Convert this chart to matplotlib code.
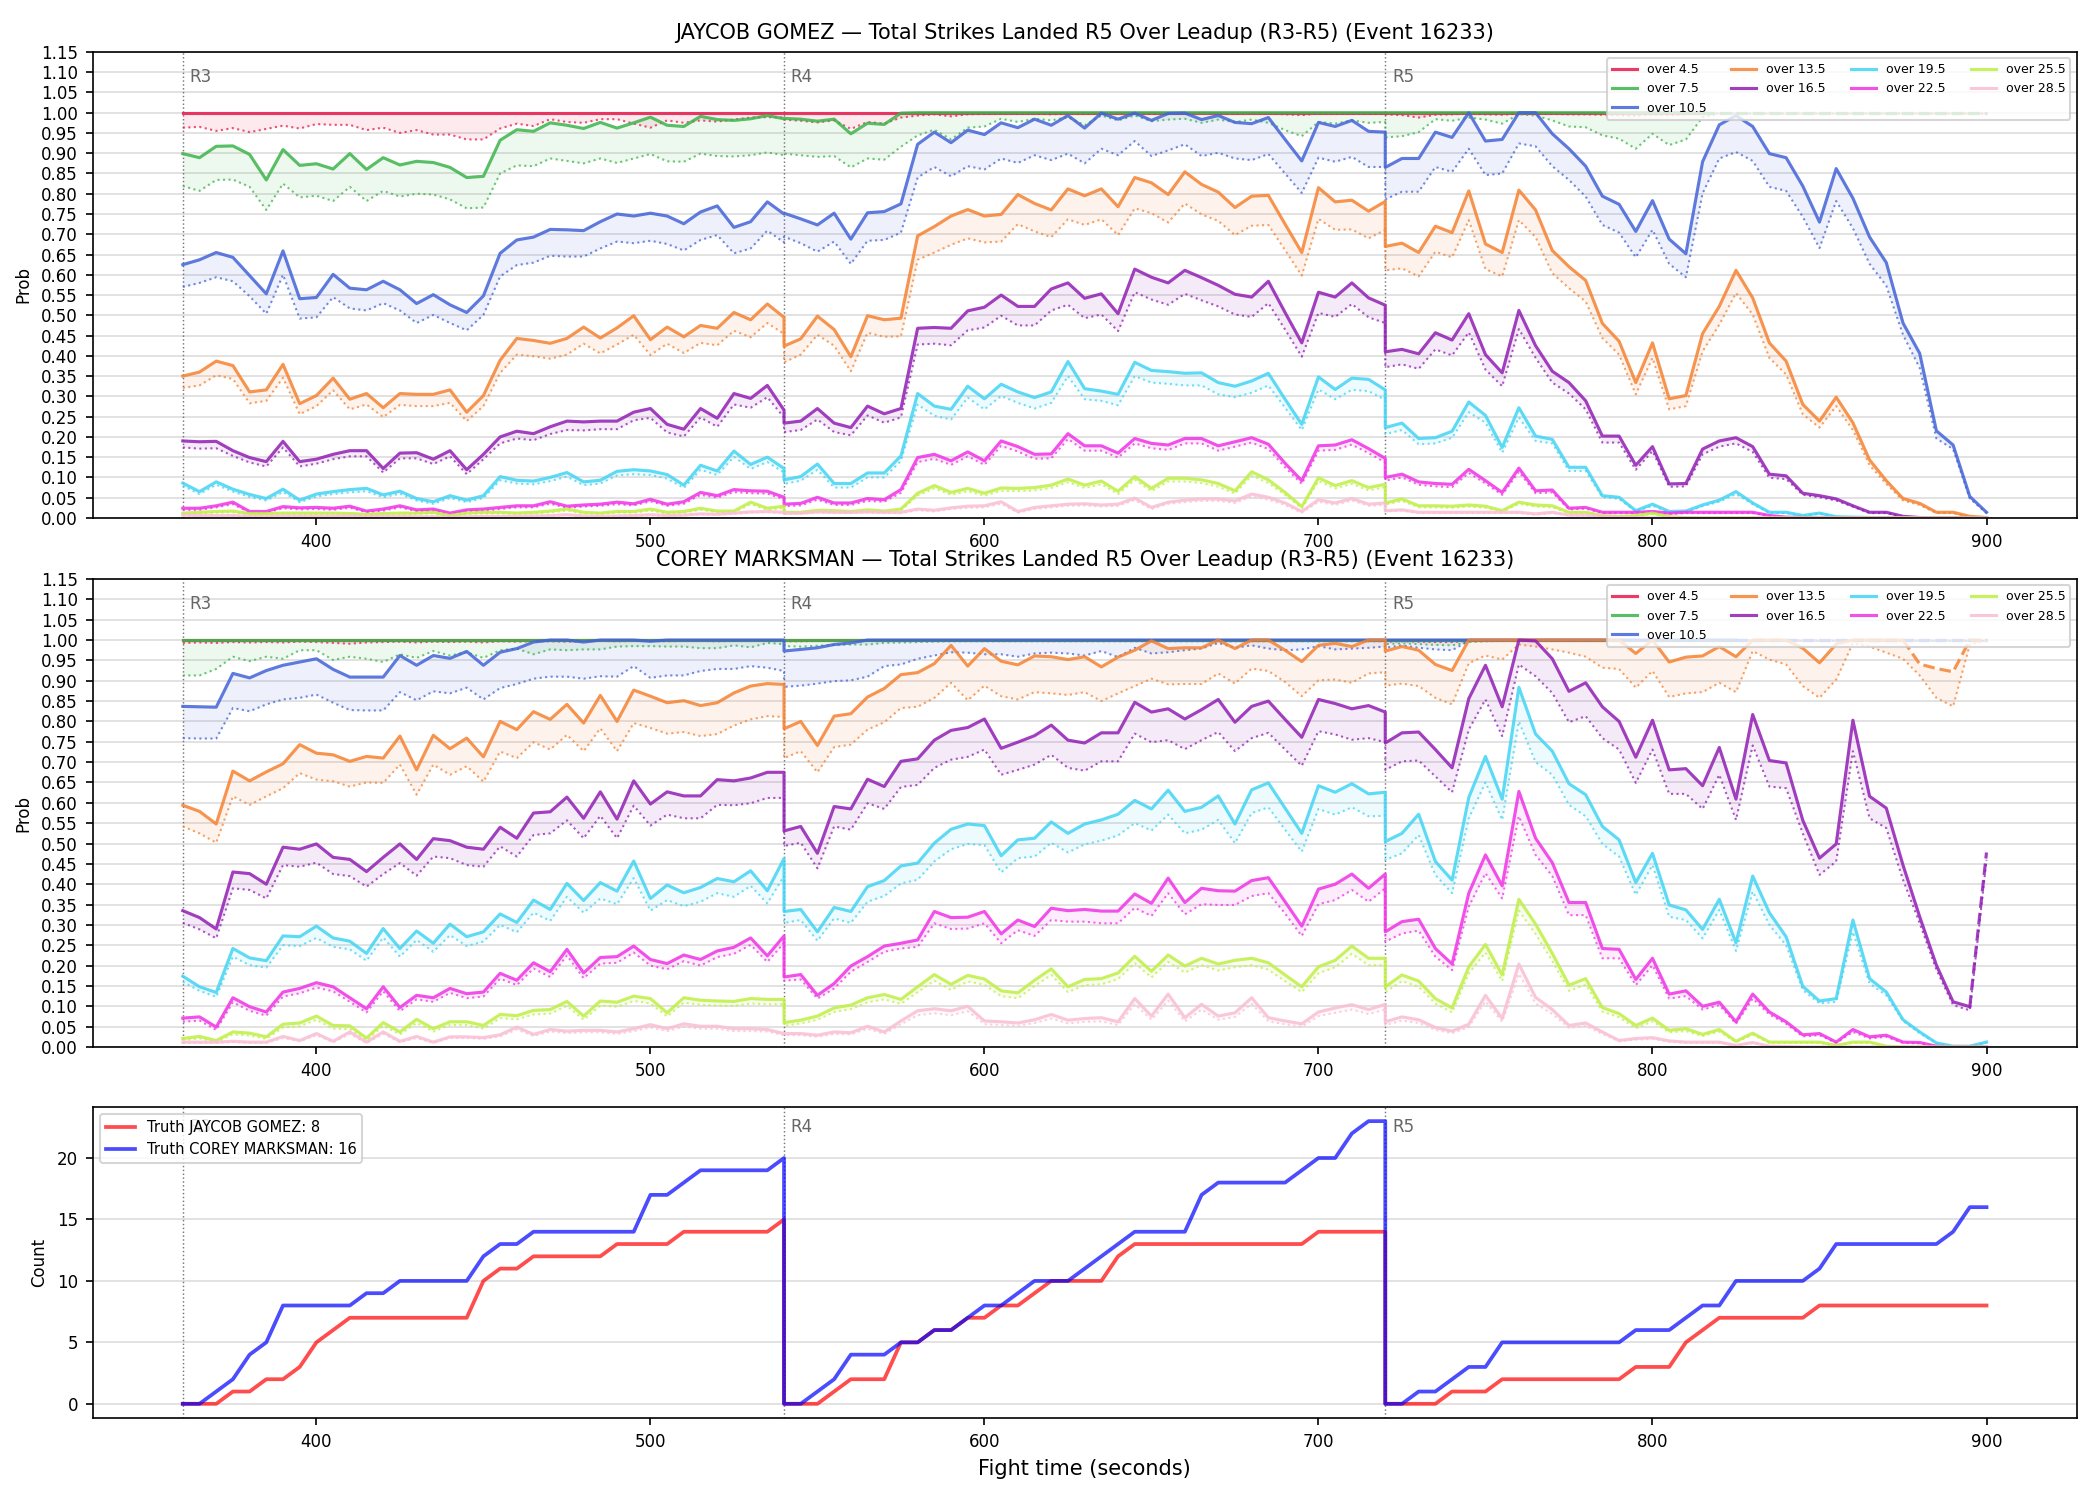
import matplotlib
matplotlib.use("Agg")
import matplotlib.pyplot as plt
import numpy as np

# ---- data -------------------------------------------------------------
ROUND_STARTS = [360, 540, 720]
ROUND_NAMES = ["R3", "R4", "R5"]
ROUND_LEN = 180
STEP = 5
EVENT = 16233
FIGHTERS = ["JAYCOB GOMEZ", "COREY MARKSMAN"]
LINES = ["over 4.5", "over 7.5", "over 10.5", "over 13.5", "over 16.5",
         "over 19.5", "over 22.5", "over 25.5", "over 28.5"]
COLORS = ["#e6194b", "#3cb44b", "#4363d8", "#f58231", "#911eb4",
          "#42d4f4", "#f032e6", "#bfef45", "#fabed4"]

# JAYCOB GOMEZ: solid = prob, _lo = dotted lower line (R3 + R4 + R5, 37 pts each)
gomez_o45 = [1.0] * 111
gomez_o45_lo = ([0.963,0.965,0.955,0.962,0.952,0.960,0.968,0.961,0.972,0.970,0.970,0.957,0.963,0.950,0.957,0.946,0.946,0.934,0.934,0.961,0.973,0.967,0.984,0.977,0.975,0.984,0.984,0.973,0.963,0.981,0.975,0.981,0.978,0.983,0.988,0.989,0.988]
                + [0.983,0.980,0.976,0.981,0.960,0.977,0.973,0.988,0.993,0.996,0.991,0.996,0.997,0.998,0.997,0.998,0.996,0.998,0.997,0.998,0.998,0.999,0.997,0.998,0.998,0.999,0.998,0.997,0.998,0.998,0.996,0.994,0.998,0.997,0.998,0.997,0.997]
                + [0.996,0.994,0.988,0.995,0.996,0.998,0.996,0.995,0.998,0.998,0.997,0.996,0.996,0.995,0.994,0.993,0.996,0.994,0.996] + [0.998] * 18)
gomez_o75 = ([0.899,0.889,0.917,0.918,0.897,0.834,0.909,0.870,0.874,0.861,0.899,0.860,0.889,0.871,0.880,0.877,0.865,0.840,0.843,0.932,0.958,0.954,0.975,0.969,0.961,0.976,0.962,0.975,0.989,0.969,0.966,0.991,0.983,0.981,0.985,0.993,0.985]
             + [0.986,0.984,0.979,0.984,0.948,0.974,0.971,0.999] + [1.0] * 29
             + [1.0] * 37)
gomez_o75_lo = ([0.819,0.807,0.834,0.835,0.817,0.760,0.825,0.791,0.795,0.782,0.817,0.782,0.807,0.793,0.800,0.798,0.786,0.764,0.766,0.850,0.870,0.868,0.887,0.881,0.875,0.887,0.876,0.887,0.898,0.880,0.879,0.899,0.893,0.892,0.895,0.902,0.895]
                + [0.899,0.895,0.891,0.893,0.865,0.887,0.884,0.916,0.944,0.958,0.934,0.963,0.966,0.985,0.977,0.985,0.981,0.989,0.969,0.993,0.981,0.993,0.979,0.983,0.985,0.975,0.983,0.977,0.983,0.975,0.957,0.942,0.977,0.973,0.981,0.975,0.977]
                + [0.939,0.942,0.952,0.984,0.980,0.988,0.983,0.973,0.996,0.993,0.981,0.966,0.964,0.944,0.936,0.911,0.948,0.920,0.934,0.989,0.998] + [0.998] * 16)
gomez_o105 = ([0.625,0.637,0.655,0.643,0.598,0.553,0.659,0.541,0.544,0.601,0.567,0.563,0.584,0.563,0.529,0.551,0.526,0.507,0.548,0.653,0.686,0.693,0.712,0.711,0.709,0.731,0.750,0.745,0.752,0.745,0.726,0.755,0.770,0.717,0.731,0.780,0.750]
              + [0.752,0.738,0.723,0.752,0.688,0.753,0.756,0.775,0.922,0.952,0.926,0.957,0.946,0.975,0.963,0.984,0.969,0.993,0.962,0.999,0.984,0.999,0.981,0.998,0.999,0.983,0.993,0.976,0.973,0.988,0.934,0.881,0.976,0.966,0.981,0.954,0.952]
              + [0.865,0.887,0.887,0.952,0.939,1.0,0.930,0.934,1.0,1.0,0.948,0.911,0.868,0.794,0.774,0.707,0.783,0.688,0.652,0.879,0.970,0.993,0.966,0.899,0.889,0.819,0.730,0.862,0.789,0.693,0.630,0.481,0.406,0.215,0.180,0.053,0.014])
gomez_o105_lo = ([0.570,0.580,0.594,0.584,0.547,0.504,0.600,0.492,0.495,0.545,0.517,0.512,0.530,0.512,0.481,0.501,0.481,0.463,0.501,0.596,0.624,0.630,0.647,0.645,0.645,0.665,0.682,0.678,0.684,0.676,0.660,0.686,0.698,0.653,0.665,0.709,0.680]
                 + [0.694,0.678,0.657,0.682,0.627,0.684,0.686,0.704,0.840,0.866,0.843,0.868,0.860,0.887,0.876,0.895,0.883,0.899,0.875,0.911,0.895,0.930,0.893,0.907,0.922,0.893,0.901,0.887,0.883,0.898,0.850,0.802,0.889,0.879,0.891,0.866,0.866]
                 + [0.786,0.805,0.805,0.866,0.854,0.911,0.846,0.850,0.924,0.917,0.868,0.834,0.793,0.723,0.704,0.643,0.711,0.627,0.594,0.801,0.887,0.903,0.881,0.817,0.807,0.743,0.666,0.782,0.715,0.627,0.573,0.452,0.370,0.196,0.170,0.048,0.012])
gomez_o135 = ([0.350,0.360,0.387,0.376,0.311,0.316,0.379,0.282,0.302,0.345,0.293,0.307,0.272,0.307,0.305,0.305,0.316,0.261,0.302,0.389,0.443,0.438,0.431,0.443,0.471,0.444,0.469,0.499,0.440,0.471,0.447,0.475,0.468,0.507,0.489,0.528,0.495]
              + [0.424,0.442,0.498,0.465,0.398,0.499,0.489,0.493,0.696,0.719,0.745,0.761,0.745,0.749,0.798,0.776,0.760,0.812,0.795,0.812,0.768,0.840,0.827,0.798,0.854,0.823,0.804,0.766,0.794,0.796,0.725,0.655,0.815,0.780,0.784,0.757,0.781]
              + [0.670,0.678,0.655,0.720,0.704,0.807,0.676,0.655,0.809,0.760,0.660,0.620,0.586,0.480,0.436,0.334,0.432,0.294,0.302,0.455,0.522,0.611,0.543,0.432,0.387,0.280,0.239,0.298,0.235,0.143,0.092,0.048,0.036,0.014,0.014,0.004,0.001])
gomez_o135_lo = ([0.321,0.327,0.352,0.343,0.283,0.289,0.346,0.256,0.276,0.315,0.268,0.280,0.249,0.279,0.276,0.276,0.284,0.239,0.276,0.358,0.403,0.399,0.393,0.403,0.430,0.406,0.428,0.452,0.402,0.430,0.407,0.432,0.426,0.462,0.446,0.481,0.454]
                 + [0.384,0.403,0.452,0.425,0.362,0.457,0.447,0.448,0.637,0.655,0.674,0.690,0.680,0.682,0.725,0.707,0.693,0.737,0.723,0.737,0.698,0.764,0.752,0.729,0.776,0.749,0.733,0.698,0.721,0.723,0.661,0.598,0.738,0.711,0.712,0.690,0.711]
                 + [0.611,0.616,0.596,0.657,0.643,0.735,0.614,0.596,0.735,0.693,0.604,0.567,0.534,0.444,0.403,0.305,0.395,0.268,0.276,0.411,0.477,0.555,0.502,0.395,0.354,0.256,0.223,0.276,0.217,0.130,0.084,0.043,0.032,0.012,0.012,0.003,0.001])
gomez_o165 = ([0.190,0.188,0.189,0.166,0.149,0.139,0.189,0.139,0.145,0.157,0.166,0.166,0.122,0.160,0.161,0.145,0.166,0.119,0.157,0.200,0.214,0.208,0.225,0.239,0.237,0.239,0.239,0.261,0.270,0.231,0.219,0.270,0.246,0.307,0.295,0.327,0.266]
              + [0.234,0.239,0.270,0.234,0.223,0.276,0.257,0.270,0.468,0.470,0.468,0.511,0.520,0.550,0.522,0.522,0.565,0.580,0.542,0.553,0.504,0.614,0.594,0.580,0.611,0.593,0.574,0.552,0.545,0.584,0.507,0.432,0.557,0.545,0.580,0.543,0.525]
              + [0.410,0.416,0.405,0.457,0.439,0.504,0.403,0.358,0.512,0.425,0.362,0.334,0.289,0.202,0.202,0.130,0.176,0.084,0.085,0.170,0.190,0.198,0.176,0.108,0.104,0.061,0.055,0.047,0.030,0.014,0.014,0.004,0.001,0,0,0,0])
gomez_o165_lo = ([0.174,0.171,0.172,0.153,0.137,0.127,0.174,0.127,0.134,0.145,0.152,0.152,0.112,0.147,0.147,0.133,0.152,0.108,0.145,0.184,0.196,0.192,0.207,0.217,0.216,0.219,0.219,0.241,0.247,0.211,0.201,0.248,0.225,0.280,0.272,0.298,0.248]
                 + [0.212,0.217,0.243,0.212,0.204,0.253,0.235,0.248,0.428,0.430,0.426,0.463,0.470,0.499,0.475,0.475,0.512,0.526,0.493,0.502,0.461,0.557,0.539,0.526,0.553,0.537,0.522,0.502,0.496,0.530,0.465,0.398,0.506,0.496,0.528,0.495,0.481]
                 + [0.372,0.379,0.368,0.416,0.401,0.458,0.366,0.325,0.466,0.395,0.334,0.307,0.268,0.186,0.186,0.119,0.165,0.077,0.078,0.157,0.176,0.184,0.163,0.099,0.096,0.057,0.051,0.043,0.028,0.012,0.012,0.003,0.001,0,0,0,0])
gomez_o195 = ([0.086,0.065,0.089,0.071,0.058,0.048,0.071,0.044,0.059,0.065,0.070,0.073,0.057,0.066,0.048,0.040,0.055,0.044,0.055,0.102,0.093,0.091,0.100,0.112,0.089,0.093,0.115,0.119,0.116,0.107,0.081,0.130,0.116,0.165,0.132,0.150,0.122]
              + [0.094,0.102,0.133,0.085,0.085,0.111,0.111,0.153,0.307,0.276,0.268,0.325,0.294,0.330,0.311,0.297,0.311,0.386,0.319,0.313,0.305,0.384,0.364,0.361,0.357,0.358,0.334,0.325,0.338,0.357,0.293,0.231,0.348,0.317,0.345,0.342,0.316]
              + [0.223,0.234,0.196,0.198,0.214,0.286,0.253,0.174,0.272,0.202,0.194,0.125,0.125,0.055,0.051,0.018,0.034,0.016,0.017,0.032,0.044,0.065,0.037,0.014,0.014,0.006,0.012,0.003,0.002,0.001,0,0,0,0,0,0,0])
gomez_o195_lo = ([0.079,0.059,0.082,0.065,0.052,0.043,0.064,0.039,0.053,0.059,0.063,0.066,0.051,0.060,0.043,0.035,0.049,0.039,0.049,0.093,0.085,0.083,0.091,0.102,0.081,0.085,0.105,0.108,0.106,0.097,0.074,0.119,0.106,0.151,0.121,0.138,0.112]
                 + [0.084,0.092,0.119,0.075,0.075,0.100,0.100,0.141,0.280,0.252,0.243,0.297,0.268,0.301,0.284,0.270,0.284,0.350,0.293,0.289,0.278,0.350,0.334,0.331,0.327,0.327,0.305,0.298,0.309,0.327,0.272,0.217,0.317,0.293,0.316,0.313,0.291]
                 + [0.207,0.217,0.182,0.184,0.198,0.261,0.235,0.161,0.248,0.190,0.184,0.116,0.116,0.051,0.047,0.016,0.030,0.014,0.015,0.029,0.040,0.059,0.034,0.012,0.012,0.005,0.010,0.002,0.001,0.001,0,0,0,0,0,0,0])
gomez_o225 = ([0.024,0.024,0.030,0.039,0.016,0.016,0.028,0.025,0.026,0.024,0.029,0.017,0.022,0.030,0.020,0.022,0.012,0.020,0.022,0.026,0.030,0.030,0.040,0.029,0.032,0.034,0.039,0.035,0.046,0.034,0.040,0.063,0.055,0.070,0.067,0.066,0.051]
              + [0.034,0.036,0.051,0.037,0.037,0.048,0.045,0.070,0.149,0.157,0.141,0.163,0.141,0.190,0.176,0.157,0.158,0.208,0.178,0.178,0.160,0.196,0.184,0.180,0.196,0.196,0.178,0.188,0.198,0.182,0.135,0.092,0.178,0.180,0.193,0.171,0.147]
              + [0.100,0.108,0.089,0.085,0.083,0.120,0.092,0.063,0.123,0.067,0.069,0.024,0.026,0.014,0.014,0.014,0.016,0.012,0.014,0.014,0.014,0.014,0.014,0.006,0.002,0.001] + [0] * 11)
gomez_o225_lo = ([0.020,0.020,0.026,0.034,0.013,0.013,0.024,0.021,0.022,0.020,0.025,0.014,0.018,0.026,0.017,0.018,0.010,0.017,0.018,0.022,0.026,0.026,0.035,0.025,0.028,0.030,0.034,0.031,0.041,0.030,0.035,0.057,0.050,0.064,0.061,0.060,0.046]
                 + [0.029,0.031,0.045,0.032,0.032,0.042,0.040,0.062,0.138,0.146,0.131,0.152,0.131,0.178,0.164,0.146,0.147,0.195,0.166,0.166,0.149,0.184,0.172,0.168,0.184,0.184,0.166,0.176,0.186,0.170,0.125,0.084,0.166,0.168,0.181,0.160,0.137]
                 + [0.092,0.100,0.082,0.078,0.076,0.111,0.085,0.057,0.114,0.061,0.063,0.021,0.023,0.012,0.012,0.012,0.014,0.010,0.012,0.012,0.012,0.012,0.012,0.005,0.002,0.001] + [0] * 11)
gomez_o255 = ([0.012,0.014,0.016,0.017,0.011,0.011,0.012,0.012,0.012,0.012,0.011,0.009,0.011,0.012,0.012,0.014,0.006,0.012,0.014,0.014,0.012,0.014,0.017,0.022,0.014,0.012,0.016,0.016,0.022,0.014,0.016,0.024,0.017,0.017,0.039,0.024,0.029]
              + [0.014,0.014,0.019,0.018,0.016,0.020,0.017,0.022,0.061,0.080,0.063,0.073,0.061,0.074,0.073,0.075,0.081,0.096,0.081,0.091,0.066,0.102,0.073,0.098,0.098,0.094,0.085,0.067,0.114,0.094,0.063,0.028,0.099,0.080,0.092,0.075,0.083]
              + [0.037,0.047,0.030,0.030,0.029,0.032,0.029,0.018,0.039,0.032,0.030,0.014,0.014,0.006,0.004,0.006,0.012,0.003,0.001] + [0] * 18)
gomez_o255_lo = ([0.010,0.011,0.013,0.014,0.009,0.009,0.010,0.010,0.010,0.010,0.009,0.007,0.009,0.010,0.010,0.011,0.005,0.010,0.011,0.011,0.010,0.011,0.014,0.018,0.011,0.010,0.013,0.013,0.018,0.011,0.013,0.020,0.014,0.014,0.034,0.020,0.025]
                 + [0.011,0.011,0.016,0.015,0.013,0.017,0.014,0.019,0.055,0.073,0.057,0.066,0.055,0.067,0.066,0.068,0.074,0.088,0.074,0.083,0.059,0.094,0.066,0.090,0.090,0.086,0.077,0.060,0.105,0.086,0.057,0.024,0.091,0.073,0.084,0.068,0.076]
                 + [0.033,0.042,0.026,0.026,0.025,0.028,0.025,0.015,0.035,0.028,0.026,0.012,0.012,0.005,0.003,0.005,0.010,0.002,0.001] + [0] * 18)
gomez_o285 = ([0.007,0.006,0.006,0.006,0.004,0.003,0.005,0.004,0.004,0.004,0.005,0.003,0.004,0.004,0.003,0.003,0.002,0.003,0.004,0.004,0.004,0.005,0.006,0.008,0.005,0.004,0.005,0.006,0.008,0.006,0.007,0.010,0.009,0.012,0.015,0.016,0.014]
              + [0.012,0.012,0.015,0.014,0.014,0.015,0.014,0.014,0.022,0.019,0.025,0.029,0.030,0.040,0.016,0.026,0.030,0.034,0.035,0.032,0.034,0.049,0.026,0.039,0.044,0.047,0.047,0.042,0.059,0.051,0.037,0.016,0.045,0.037,0.048,0.034,0.037]
              + [0.018,0.020,0.014,0.014,0.014,0.014,0.014,0.014,0.014,0.010,0.014,0.007,0.007,0.004,0.002,0.001] + [0] * 21)
gomez_o285_lo = ([0.006,0.005,0.005,0.005,0.003,0.002,0.004,0.003,0.003,0.003,0.004,0.002,0.003,0.003,0.002,0.002,0.001,0.002,0.003,0.003,0.003,0.004,0.005,0.007,0.004,0.003,0.004,0.005,0.007,0.005,0.006,0.009,0.008,0.010,0.013,0.014,0.012]
                 + [0.010,0.010,0.013,0.012,0.012,0.013,0.012,0.012,0.019,0.016,0.022,0.025,0.026,0.035,0.013,0.022,0.026,0.030,0.031,0.028,0.030,0.044,0.022,0.035,0.039,0.042,0.042,0.037,0.053,0.045,0.032,0.013,0.040,0.032,0.043,0.030,0.032]
                 + [0.016,0.018,0.012,0.012,0.012,0.012,0.012,0.012,0.012,0.008,0.012,0.006,0.006,0.003,0.002,0.001] + [0] * 21)

# COREY MARKSMAN
marksman_o45 = [1.0] * 111
marksman_o45_lo = ([0.993,0.994,0.993,0.995,0.994,0.995,0.994,0.996,0.995,0.993,0.991,0.994,0.995,0.996,0.994,0.996,0.995,0.996,0.994,0.997,0.996,0.997,0.997,0.996,0.997,0.998,0.997,0.998,0.998,0.997,0.998,0.998,0.997,0.998,0.998,0.999,0.998]
                   + [0.997,0.997,0.998,0.998,0.998,0.998,0.999,0.998,0.999,0.999] + [0.999] * 27
                   + [0.996,0.997,0.996,0.995,0.995,0.998,0.999] + [0.999] * 30)
marksman_o75 = [1.0] * 111
marksman_o75_lo = ([0.913,0.913,0.929,0.959,0.948,0.959,0.954,0.975,0.975,0.951,0.959,0.954,0.946,0.965,0.956,0.973,0.962,0.970,0.956,0.975,0.979,0.965,0.977,0.975,0.977,0.977,0.984,0.985,0.985,0.984,0.984,0.980,0.980,0.987,0.982,0.993,0.990]
                   + [0.985,0.984,0.986,0.988,0.989,0.989,0.993,0.994,0.995,0.996] + [0.997] * 27
                   + [0.990,0.992,0.990,0.988,0.987,0.995,0.997] + [0.998] * 30)
marksman_o105 = ([0.837,0.836,0.835,0.918,0.907,0.925,0.938,0.946,0.954,0.928,0.909,0.909,0.909,0.962,0.938,0.962,0.955,0.972,0.938,0.970,0.979,0.995,1.0,1.0,0.995,1.0,1.0,1.0,0.997,1.0,1.0,1.0,1.0,1.0,1.0,1.0,1.0]
                 + [0.973,0.977,0.981,0.989,0.993] + [1.0] * 32
                 + [1.0] * 37)
marksman_o105_lo = ([0.759,0.758,0.758,0.833,0.825,0.842,0.854,0.858,0.866,0.846,0.828,0.827,0.827,0.872,0.852,0.874,0.869,0.883,0.854,0.882,0.892,0.905,0.910,0.910,0.905,0.911,0.910,0.936,0.907,0.913,0.913,0.924,0.929,0.929,0.936,0.932,0.924]
                    + [0.885,0.888,0.893,0.899,0.901,0.910,0.936,0.940,0.954,0.962,0.970,0.969,0.965,0.965,0.959,0.967,0.969,0.967,0.962,0.973,0.958,0.981,0.967,0.970,0.975,0.979,0.993,0.981,0.987,0.979,0.975,0.977,0.985,0.977,0.979,0.981,0.984]
                    + [0.981,0.987,0.981,0.977,0.975,0.998] + [0.998] * 31)
marksman_o135 = ([0.594,0.579,0.548,0.678,0.654,0.676,0.696,0.743,0.722,0.718,0.702,0.714,0.710,0.764,0.681,0.766,0.733,0.759,0.713,0.800,0.780,0.824,0.805,0.842,0.796,0.864,0.800,0.877,0.862,0.846,0.851,0.839,0.846,0.870,0.887,0.893,0.891]
                 + [0.782,0.800,0.741,0.813,0.819,0.860,0.881,0.915,0.920,0.942,0.987,0.936,0.979,0.948,0.939,0.961,0.959,0.952,0.959,0.934,0.958,0.975,0.998,0.979,0.981,0.981,1.0,0.979,1.0,1.0,0.975,0.947,0.987,0.992,0.984,1.0,1.0]
                 + [0.973,0.984,0.975,0.940,0.925] + [1.0] * 10
                 + [0.967,1.0,0.946,0.958,0.961,0.984,0.959,1.0,1.0,1.0,0.980,0.944,0.990,1.0,1.0,1.0,1.0,0.941,0.930,0.922,1.0,1.0])
marksman_o135_lo = ([0.542,0.525,0.502,0.616,0.595,0.616,0.636,0.673,0.657,0.653,0.640,0.650,0.649,0.694,0.620,0.694,0.669,0.690,0.652,0.726,0.710,0.749,0.731,0.767,0.727,0.783,0.727,0.796,0.784,0.770,0.774,0.764,0.769,0.790,0.805,0.813,0.811]
                    + [0.710,0.727,0.675,0.737,0.743,0.780,0.798,0.833,0.836,0.858,0.895,0.852,0.888,0.862,0.854,0.872,0.869,0.865,0.872,0.850,0.869,0.887,0.905,0.891,0.892,0.892,0.918,0.893,0.930,0.924,0.897,0.862,0.901,0.903,0.895,0.918,0.921]
                    + [0.888,0.893,0.887,0.858,0.842,0.943,0.962,0.952,0.989,0.984,0.977,0.969,0.959,0.932,0.929,0.883,0.924,0.860,0.869,0.872,0.895,0.872,0.973,0.952,0.940,0.887,0.858,0.903,0.992,0.984,0.969,0.954,0.913,0.858,0.837,0.989,0.998])
marksman_o165 = ([0.335,0.318,0.290,0.430,0.426,0.400,0.491,0.486,0.499,0.466,0.461,0.431,0.466,0.499,0.461,0.512,0.507,0.491,0.486,0.540,0.513,0.575,0.578,0.614,0.562,0.627,0.560,0.654,0.597,0.627,0.617,0.617,0.657,0.654,0.661,0.675,0.675]
                 + [0.531,0.542,0.476,0.591,0.585,0.658,0.640,0.702,0.708,0.754,0.778,0.785,0.806,0.734,0.749,0.765,0.791,0.754,0.747,0.772,0.772,0.847,0.823,0.831,0.806,0.829,0.854,0.798,0.837,0.850,0.805,0.761,0.854,0.844,0.831,0.839,0.823]
                 + [0.747,0.772,0.774,0.731,0.686,0.856,0.938,0.836,1.0,0.998,0.954,0.874,0.895,0.836,0.800,0.712,0.803,0.681,0.684,0.642,0.736,0.609,0.817,0.704,0.698,0.557,0.464,0.499,0.803,0.616,0.587,0.447,0.320,0.201,0.111,0.099,0.478])
marksman_o165_lo = ([0.305,0.289,0.267,0.390,0.386,0.365,0.447,0.443,0.453,0.425,0.420,0.394,0.425,0.452,0.421,0.468,0.464,0.447,0.443,0.493,0.468,0.521,0.525,0.557,0.513,0.568,0.513,0.593,0.544,0.571,0.562,0.562,0.595,0.594,0.599,0.612,0.612]
                    + [0.494,0.502,0.439,0.542,0.534,0.599,0.585,0.639,0.644,0.686,0.706,0.713,0.731,0.669,0.681,0.694,0.718,0.686,0.679,0.702,0.702,0.770,0.749,0.754,0.732,0.754,0.774,0.727,0.759,0.772,0.731,0.691,0.776,0.768,0.755,0.759,0.749]
                    + [0.681,0.702,0.704,0.665,0.626,0.780,0.854,0.764,0.940,0.911,0.870,0.798,0.813,0.759,0.731,0.649,0.731,0.622,0.622,0.585,0.669,0.558,0.741,0.640,0.636,0.525,0.423,0.456,0.727,0.562,0.538,0.411,0.304,0.190,0.103,0.090,0.460])
marksman_o195 = ([0.174,0.148,0.134,0.242,0.219,0.212,0.273,0.271,0.297,0.268,0.260,0.230,0.291,0.242,0.285,0.255,0.302,0.271,0.283,0.327,0.306,0.361,0.338,0.402,0.360,0.404,0.383,0.457,0.365,0.398,0.379,0.392,0.414,0.406,0.433,0.384,0.463]
                 + [0.333,0.338,0.283,0.343,0.333,0.394,0.409,0.445,0.452,0.501,0.535,0.548,0.544,0.470,0.509,0.513,0.553,0.525,0.548,0.558,0.572,0.606,0.585,0.631,0.579,0.589,0.617,0.548,0.632,0.649,0.587,0.525,0.642,0.626,0.647,0.622,0.626]
                 + [0.505,0.525,0.572,0.456,0.410,0.613,0.714,0.609,0.884,0.769,0.727,0.647,0.620,0.542,0.509,0.404,0.476,0.349,0.337,0.289,0.363,0.256,0.420,0.330,0.271,0.149,0.113,0.119,0.312,0.168,0.135,0.067,0.037,0.010,0.002,0.002,0.012])
marksman_o195_lo = ([0.160,0.138,0.123,0.222,0.201,0.195,0.250,0.248,0.268,0.246,0.240,0.212,0.269,0.222,0.263,0.234,0.275,0.248,0.259,0.300,0.282,0.330,0.310,0.369,0.330,0.365,0.351,0.415,0.335,0.361,0.346,0.357,0.378,0.369,0.396,0.353,0.420]
                    + [0.305,0.312,0.261,0.316,0.305,0.357,0.371,0.402,0.411,0.456,0.486,0.499,0.496,0.429,0.464,0.468,0.502,0.478,0.498,0.507,0.520,0.550,0.532,0.571,0.525,0.534,0.558,0.501,0.575,0.589,0.534,0.480,0.585,0.571,0.589,0.567,0.568]
                    + [0.460,0.476,0.521,0.423,0.378,0.562,0.650,0.558,0.800,0.700,0.669,0.595,0.567,0.499,0.468,0.374,0.447,0.320,0.312,0.267,0.337,0.236,0.382,0.300,0.250,0.140,0.107,0.111,0.283,0.156,0.127,0.064,0.034,0.009,0.002,0.002,0.010])
marksman_o225 = ([0.071,0.074,0.049,0.121,0.099,0.086,0.135,0.144,0.158,0.148,0.121,0.094,0.148,0.097,0.127,0.121,0.144,0.131,0.135,0.181,0.164,0.207,0.185,0.240,0.182,0.220,0.222,0.248,0.215,0.205,0.226,0.215,0.236,0.245,0.268,0.224,0.273]
                 + [0.172,0.178,0.127,0.156,0.199,0.222,0.248,0.255,0.263,0.333,0.318,0.319,0.333,0.278,0.312,0.296,0.341,0.335,0.338,0.334,0.334,0.376,0.353,0.415,0.355,0.390,0.384,0.383,0.409,0.416,0.357,0.297,0.388,0.400,0.425,0.390,0.425]
                 + [0.283,0.308,0.314,0.242,0.204,0.378,0.472,0.396,0.628,0.513,0.453,0.355,0.355,0.242,0.240,0.166,0.218,0.130,0.138,0.100,0.110,0.062,0.130,0.086,0.062,0.030,0.033,0.012,0.043,0.025,0.029,0.012,0.011,0.002,0,0,0])
marksman_o225_lo = ([0.062,0.065,0.042,0.110,0.089,0.077,0.124,0.132,0.146,0.137,0.111,0.085,0.137,0.088,0.117,0.111,0.133,0.120,0.124,0.168,0.152,0.193,0.172,0.225,0.169,0.205,0.207,0.232,0.200,0.191,0.211,0.200,0.221,0.229,0.251,0.209,0.256]
                    + [0.163,0.166,0.119,0.144,0.185,0.209,0.234,0.242,0.246,0.304,0.290,0.291,0.304,0.255,0.287,0.273,0.312,0.308,0.308,0.304,0.304,0.342,0.322,0.378,0.326,0.351,0.349,0.349,0.371,0.378,0.328,0.273,0.351,0.361,0.386,0.357,0.390]
                    + [0.259,0.279,0.286,0.222,0.189,0.345,0.427,0.365,0.567,0.472,0.420,0.324,0.324,0.218,0.218,0.152,0.201,0.119,0.125,0.092,0.103,0.057,0.119,0.080,0.057,0.026,0.029,0.010,0.037,0.021,0.025,0.010,0.009,0.002,0,0,0])
marksman_o255 = ([0.021,0.026,0.016,0.037,0.034,0.025,0.056,0.059,0.076,0.053,0.052,0.022,0.060,0.037,0.068,0.045,0.062,0.062,0.053,0.080,0.077,0.090,0.092,0.112,0.076,0.113,0.110,0.125,0.119,0.084,0.121,0.115,0.113,0.112,0.119,0.117,0.117]
                 + [0.060,0.066,0.076,0.096,0.103,0.121,0.129,0.117,0.148,0.178,0.154,0.176,0.167,0.138,0.133,0.164,0.192,0.148,0.166,0.168,0.182,0.223,0.186,0.226,0.199,0.218,0.204,0.213,0.218,0.207,0.177,0.148,0.197,0.213,0.248,0.218,0.218]
                 + [0.148,0.177,0.162,0.119,0.096,0.197,0.252,0.177,0.363,0.302,0.230,0.152,0.168,0.097,0.082,0.053,0.071,0.041,0.045,0.031,0.043,0.014,0.034,0.012,0.012,0.012,0.012,0.004,0.012,0.012,0.002,0,0,0,0,0,0])
marksman_o255_lo = ([0.017,0.021,0.012,0.031,0.028,0.020,0.048,0.051,0.067,0.045,0.044,0.017,0.052,0.031,0.059,0.038,0.054,0.054,0.045,0.071,0.068,0.080,0.082,0.101,0.067,0.102,0.099,0.113,0.107,0.075,0.109,0.104,0.102,0.101,0.107,0.105,0.105]
                    + [0.052,0.058,0.067,0.086,0.093,0.110,0.117,0.106,0.135,0.163,0.140,0.161,0.153,0.125,0.120,0.150,0.177,0.135,0.152,0.154,0.167,0.206,0.171,0.209,0.183,0.201,0.188,0.196,0.201,0.190,0.162,0.135,0.181,0.196,0.229,0.201,0.201]
                    + [0.135,0.162,0.148,0.107,0.085,0.181,0.232,0.162,0.335,0.278,0.211,0.138,0.153,0.087,0.073,0.046,0.063,0.036,0.039,0.027,0.038,0.012,0.030,0.010,0.010,0.010,0.010,0.003,0.010,0.010,0.002,0,0,0,0,0,0])
marksman_o285 = ([0.012,0.012,0.012,0.014,0.012,0.012,0.026,0.016,0.033,0.014,0.037,0.012,0.037,0.014,0.026,0.012,0.025,0.025,0.023,0.030,0.049,0.031,0.043,0.039,0.041,0.041,0.037,0.045,0.055,0.045,0.057,0.051,0.051,0.045,0.045,0.043,0.033]
                 + [0.033,0.033,0.029,0.037,0.035,0.051,0.037,0.064,0.089,0.094,0.089,0.100,0.064,0.062,0.059,0.067,0.080,0.066,0.070,0.072,0.062,0.119,0.076,0.130,0.072,0.105,0.076,0.084,0.121,0.072,0.064,0.057,0.086,0.096,0.104,0.092,0.105]
                 + [0.062,0.074,0.067,0.048,0.039,0.056,0.127,0.070,0.204,0.122,0.092,0.053,0.059,0.037,0.016,0.021,0.023,0.015,0.012,0.012,0.012,0.004,0.011,0.002,0.001] + [0] * 12)
marksman_o285_lo = ([0.010,0.010,0.010,0.012,0.010,0.010,0.022,0.014,0.029,0.012,0.032,0.010,0.032,0.012,0.022,0.010,0.022,0.022,0.020,0.026,0.043,0.027,0.038,0.034,0.036,0.036,0.032,0.039,0.048,0.039,0.050,0.045,0.045,0.039,0.039,0.038,0.029]
                    + [0.029,0.029,0.025,0.032,0.031,0.045,0.032,0.056,0.078,0.083,0.078,0.088,0.056,0.054,0.052,0.059,0.070,0.058,0.062,0.063,0.054,0.105,0.067,0.114,0.063,0.092,0.067,0.074,0.106,0.063,0.056,0.050,0.076,0.084,0.092,0.081,0.092]
                    + [0.054,0.065,0.059,0.042,0.034,0.049,0.112,0.062,0.180,0.107,0.081,0.047,0.052,0.032,0.014,0.018,0.020,0.013,0.010,0.010,0.010,0.003,0.010,0.002,0.001] + [0] * 12)

# cumulative landed strikes within each round
gomez_count = ([0,0,0,1,1,2,2,3,5,6,7,7,7,7,7,7,7,7,10,11,11,12,12,12,12,12,13,13,13,13,14,14,14,14,14,14,15]
               + [0,0,0,1,2,2,2,5,5,6,6,7,7,8,8,9,10,10,10,10,12,13,13,13,13,13,13,13,13,13,13,13,14,14,14,14,14]
               + [0,0,0,0,1,1,1,2,2,2,2,2,2,2,2,3,3,3,5,6,7,7,7,7,7,7,8,8,8,8,8,8,8,8,8,8,8])
marksman_count = ([0,0,1,2,4,5,8,8,8,8,8,9,9,10,10,10,10,10,12,13,13,14,14,14,14,14,14,14,17,17,18,19,19,19,19,19,20]
                  + [0,0,1,2,4,4,4,5,5,6,6,7,8,8,9,10,10,10,11,12,13,14,14,14,14,17,18,18,18,18,18,19,20,20,22,23,23]
                  + [0,0,1,1,2,3,3,5,5,5,5,5,5,5,5,6,6,6,7,8,8,10,10,10,10,10,11,13,13,13,13,13,13,13,14,16,16])

gomez_lines = [gomez_o45, gomez_o75, gomez_o105, gomez_o135, gomez_o165,
               gomez_o195, gomez_o225, gomez_o255, gomez_o285]
gomez_lows = [gomez_o45_lo, gomez_o75_lo, gomez_o105_lo, gomez_o135_lo, gomez_o165_lo,
              gomez_o195_lo, gomez_o225_lo, gomez_o255_lo, gomez_o285_lo]
marksman_lines = [marksman_o45, marksman_o75, marksman_o105, marksman_o135, marksman_o165,
                  marksman_o195, marksman_o225, marksman_o255, marksman_o285]
marksman_lows = [marksman_o45_lo, marksman_o75_lo, marksman_o105_lo, marksman_o135_lo, marksman_o165_lo,
                 marksman_o195_lo, marksman_o225_lo, marksman_o255_lo, marksman_o285_lo]

# ---- plotting ---------------------------------------------------------
t = np.concatenate([np.arange(s, s + ROUND_LEN + 1, STEP) for s in ROUND_STARTS])

# index from which a line is drawn dashed (R5 tail)
gomez_dash = {0: (93, 110), 1: (93, 110)}
marksman_dash = {0: (95, 110), 1: (95, 110), 2: (95, 110), 3: (105, 110), 4: (109, 110)}


def round_marks(ax, labels=True):
    for s, name in zip(ROUND_STARTS, ROUND_NAMES):
        ax.axvline(s, color="#555555", ls=":", lw=0.7, alpha=0.8, zorder=1)
        if labels:
            ax.text(s + 2, 0.965, name, transform=ax.get_xaxis_transform(),
                    va="top", ha="left", fontsize=8, color="#666666")


def prob_panel(ax, fighter, lines, lows, dash):
    for i, name in enumerate(LINES):
        y = np.array(lines[i], dtype=float)
        lo = np.array(lows[i], dtype=float)
        c = COLORS[i]
        ax.fill_between(t, lo, y, color=c, alpha=0.09, lw=0)
        ax.plot(t, lo, ls=":", color=c, lw=1.0, alpha=0.75)
        if i in dash:
            a, b = dash[i]
            ax.plot(t[:a + 1], y[:a + 1], color=c, lw=1.5, alpha=0.85, label=name)
            ax.plot(t[a:b + 1], y[a:b + 1], ls="--", color=c, lw=1.5, alpha=0.85)
        else:
            ax.plot(t, y, color=c, lw=1.5, alpha=0.85, label=name)
    ax.set_ylim(0, 1.15)
    ax.set_yticks(np.arange(0, 1.151, 0.05))
    ax.set_yticklabels([f"{v:.2f}" for v in np.arange(0, 1.151, 0.05)])
    ax.yaxis.grid(True, color="#dddddd", lw=0.8)
    ax.set_axisbelow(True)
    ax.set_ylabel("Prob", fontsize=8)
    ax.set_title(f"{fighter} \u2014 Total Strikes Landed R5 Over Leadup (R3-R5) (Event {EVENT})",
                 fontsize=10)
    round_marks(ax)
    ax.legend(loc="upper right", ncol=4, fontsize=6, framealpha=0.8)
    ax.tick_params(labelsize=8)


fig = plt.figure(figsize=(14, 10), dpi=150)
ax1 = fig.add_axes([0.0441, 0.6547, 0.9448, 0.3107])
ax2 = fig.add_axes([0.0441, 0.3020, 0.9448, 0.3120])
ax3 = fig.add_axes([0.0441, 0.0547, 0.9448, 0.2073])

prob_panel(ax1, FIGHTERS[0], gomez_lines, gomez_lows, gomez_dash)
prob_panel(ax2, FIGHTERS[1], marksman_lines, marksman_lows, marksman_dash)

ax3.plot(t, gomez_count, color="red", alpha=0.7, lw=1.8,
         label=f"Truth {FIGHTERS[0]}: {gomez_count[-1]}")
ax3.plot(t, marksman_count, color="blue", alpha=0.7, lw=1.8,
         label=f"Truth {FIGHTERS[1]}: {marksman_count[-1]}")
round_marks(ax3)
ax3.yaxis.grid(True, color="#dddddd", lw=0.8)
ax3.set_axisbelow(True)
ax3.set_ylabel("Count", fontsize=8)
ax3.set_xlabel("Fight time (seconds)", fontsize=10)
ax3.legend(loc="upper left", fontsize=7, framealpha=0.8)
ax3.tick_params(labelsize=8)

for ax in (ax1, ax2):
    ax.set_xlim(ax3.get_xlim())

fig.savefig("out.png", dpi=150)
